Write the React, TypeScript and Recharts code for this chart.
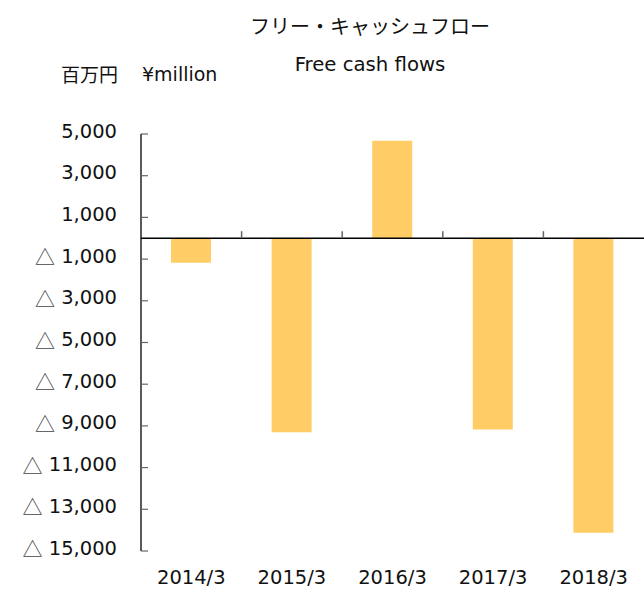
import React from 'react';
import { BarChart, Bar, XAxis, YAxis, ReferenceLine } from 'recharts';

const categories = ['2014/3', '2015/3', '2016/3', '2017/3', '2018/3'];
const freeCashFlows = [-1170, -9300, 4680, -9170, -14130];
const yTicks = [5000, 3000, 1000, -1000, -3000, -5000, -7000, -9000, -11000, -13000, -15000];
const categoryPositions = [0.5, 1.5, 2.5, 3.5, 4.5];
const categoryBoundaries = [1, 2, 3, 4];

const data = categories.map((c, i) => ({ pos: categoryPositions[i], name: c, value: freeCashFlows[i] }));

const fmt = (n: number) => String(Math.abs(n)).replace(/\B(?=(\d{3})+(?!\d))/g, ',');

const YTick = (props: any) => {
  const { x, y, payload } = props;
  const v = payload.value as number;
  return (
    <g>
      <line x1={x} x2={x + 7} y1={y} y2={y} stroke="#666" strokeWidth={1.2} />
      <text x={x - 24} y={y - 3} textAnchor="end" dominantBaseline="central" fontFamily="DejaVu Sans" fontSize={19.5} fill="#111">
        {v < 0 && (
          <tspan fontFamily="Noto Sans CJK JP" fontSize={20} fill="#444">△</tspan>
        )}
        {v < 0 ? ' ' + fmt(v) : fmt(v)}
      </text>
    </g>
  );
};

const XTick = (props: any) => {
  const { x, y, payload } = props;
  const idx = categoryPositions.indexOf(payload.value);
  return (
    <text x={x} y={y + 26} textAnchor="middle" dominantBaseline="central" fontFamily="DejaVu Sans" fontSize={19.5} fill="#111">
      {categories[idx]}
    </text>
  );
};

export default function App() {
  return (
    <div style={{ position: 'absolute', left: 0, top: 0, width: 644, height: 589, background: '#fff' }}>
      <div style={{ position: 'absolute', left: 0, width: 740, top: 16, textAlign: 'center', fontFamily: '"Noto Sans CJK JP"', fontSize: 20, lineHeight: '20px', color: '#111' }}>
        フリー・キャッシュフロー
      </div>
      <div style={{ position: 'absolute', left: 0, width: 740, top: 55, textAlign: 'center', fontFamily: '"DejaVu Sans"', fontSize: 19.7, lineHeight: '20px', color: '#111' }}>
        Free cash flows
      </div>
      <div style={{ position: 'absolute', left: 61, top: 64, fontFamily: '"Noto Sans CJK JP"', fontSize: 19, lineHeight: '20px', color: '#111' }}>
        百万円
      </div>
      <div style={{ position: 'absolute', left: 142, top: 64, fontFamily: '"DejaVu Sans"', fontSize: 19, lineHeight: '20px', color: '#111' }}>
        ¥million
      </div>
      <BarChart width={644} height={589} data={data} margin={{ top: 134, right: 0, left: 0, bottom: 0 }}>
        <XAxis
          dataKey="pos"
          type="number"
          domain={[0, 5]}
          ticks={categoryPositions}
          interval={0}
          axisLine={false}
          tickLine={false}
          tickSize={0}
          tickMargin={0}
          height={38}
          tick={<XTick />}
        />
        <YAxis
          type="number"
          domain={[-15000, 5000]}
          ticks={yTicks}
          interval={0}
          width={141}
          axisLine={{ stroke: '#000', strokeWidth: 1.3 }}
          tickLine={false}
          tickSize={0}
          tickMargin={0}
          tick={<YTick />}
        />
        <Bar dataKey="value" fill="#FFCC66" barSize={40} isAnimationActive={false} />
        <ReferenceLine y={0} stroke="#000" strokeWidth={1.5} />
        {categoryBoundaries.map((b) => (
          <ReferenceLine key={b} segment={[{ x: b, y: 0 }, { x: b, y: 340 }]} stroke="#666" strokeWidth={1.5} />
        ))}
      </BarChart>
    </div>
  );
}
